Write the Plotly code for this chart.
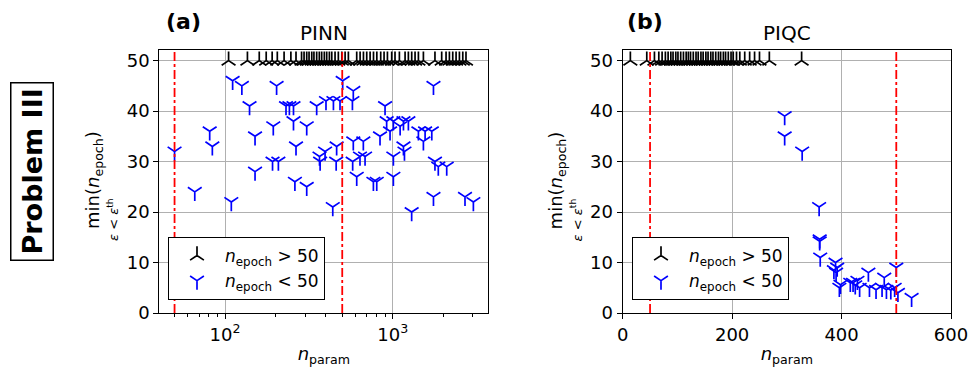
import plotly.graph_objects as go

# ---------------- data ----------------
# Panel (a) PINN: runs that did not converge within 50 epochs (plotted at the cap 50)
pinn_over_x = [105, 136, 160, 176, 191, 205, 225, 247, 265, 286, 296, 307, 317, 329, 339,
               352, 365, 377, 391, 404, 419, 433, 453, 474, 497, 520, 544, 610, 639, 669,
               700, 733, 768, 804, 848, 888, 930, 986, 1032, 1096, 1185, 1240, 1298, 1359,
               1423, 1524, 1786, 1959, 2080, 2178, 2280, 2387, 2499, 2617, 2735]
pinn_over_y = [50, 50, 50, 50, 50, 50, 50, 50, 50, 50, 50, 50, 50, 50, 50,
               50, 50, 50, 50, 50, 50, 50, 50, 50, 50, 50, 50, 50, 50, 50,
               50, 50, 50, 50, 50, 50, 50, 50, 50, 50, 50, 50, 50, 50,
               50, 50, 50, 50, 50, 50, 50, 50, 50, 50, 50]
# Panel (a) PINN: converged runs
pinn_under_x = [50, 66, 81, 84, 109, 111, 126, 140, 151, 151, 194, 203, 192, 208,
                231, 242, 256, 256, 307, 265, 261, 307, 352, 400, 443, 485, 503,
                582, 575, 366, 395, 369, 463, 460, 439, 582, 668, 638, 684, 577,
                610, 767, 803, 1009, 840, 900, 920, 1009, 964, 1107, 1159, 1240,
                1159, 1175, 1009, 1423, 1560, 1710, 1524, 1750, 1786, 1870, 2099,
                1750, 1297, 2698, 3027]
pinn_under_y = [32, 24, 36, 33, 22, 46, 45, 41, 35, 28, 37, 45, 30, 30,
                41, 41, 41, 38, 37, 33, 26, 25, 41, 42, 42, 42, 46,
                44, 42, 31, 32, 30, 33, 30, 21, 34, 34, 31, 31, 30,
                27, 26, 26, 27, 35, 41, 38, 38, 36, 37, 38, 38,
                33, 32, 31, 36, 36, 36, 34, 45, 30, 29, 29,
                23, 20, 23, 22]

# Panel (b) PIQC
piqc_over_x = [14, 44, 58, 66, 72, 78, 83, 88, 92, 97, 101, 106, 111, 116, 120, 124,
               129, 134, 138, 143, 147, 152, 156, 161, 165, 170, 175, 179, 184, 188,
               193, 198, 202, 208, 214, 223, 232, 241, 250, 268, 327]
piqc_over_y = [50, 50, 50, 50, 50, 50, 50, 50, 50, 50, 50, 50, 50, 50, 50, 50,
               50, 50, 50, 50, 50, 50, 50, 50, 50, 50, 50, 50, 50, 50,
               50, 50, 50, 50, 50, 50, 50, 50, 50, 50, 50]
piqc_under_x = [296, 296, 328, 359, 360, 360, 361, 389, 392, 386, 390, 396, 398, 416,
                421, 425, 429, 433, 449, 451, 463, 474, 478, 482, 490, 497, 500, 503, 528]
piqc_under_y = [39, 35, 32, 21, 14.6, 14.2, 11, 10, 9, 8.5, 8, 5, 5.6, 6,
                6, 5.5, 6.4, 5, 8, 5, 4.6, 5, 7, 4.6, 4.5, 5, 9, 4, 3]

thresholds = [50, 500]
y_max = 52.1

legend_labels = ["<i>n</i><sub>epoch</sub> &gt; 50", "<i>n</i><sub>epoch</sub> &lt; 50"]

FONT = "DejaVu Sans"
MS = 11.5
LW = 1.7

fig = go.Figure()


def add_panel(xref, yref, legend, ox, oy, ux, uy):
    fig.add_trace(go.Scatter(
        x=ox, y=oy, mode="markers", xaxis=xref, yaxis=yref, legend=legend,
        name=legend_labels[0], cliponaxis=False,
        marker=dict(symbol="y-up", size=MS, color="black",
                    line=dict(color="black", width=LW))))
    fig.add_trace(go.Scatter(
        x=ux, y=uy, mode="markers", xaxis=xref, yaxis=yref, legend=legend,
        name=legend_labels[1], cliponaxis=False,
        marker=dict(symbol="y-down", size=MS, color="blue",
                    line=dict(color="blue", width=LW))))


add_panel("x", "y", "legend", pinn_over_x, pinn_over_y, pinn_under_x, pinn_under_y)
add_panel("x2", "y2", "legend2", piqc_over_x, piqc_over_y, piqc_under_x, piqc_under_y)

shapes = []
for xr, yr in (("x", "y"), ("x2", "y2")):
    for t in thresholds:
        shapes.append(dict(type="line", xref=xr, yref=yr + " domain", x0=t, x1=t,
                           y0=0, y1=1, layer="above",
                           line=dict(color="red", width=1.8, dash="dashdot")))

W, H = 971, 369
ydom = [1 - 313 / H, 1 - 50 / H]
common_y = dict(range=[0, y_max], tick0=0, dtick=10, showgrid=True, gridcolor="#b0b0b0",
                gridwidth=1, zeroline=False, showline=True, mirror=True, linecolor="black",
                linewidth=1.2, ticks="outside", ticklen=5, tickcolor="black", automargin=False,
                tickfont=dict(size=18, color="black", family=FONT), domain=ydom)
xtitle = dict(text="<i>n</i><sub>param</sub>", font=dict(size=18, color="black", family=FONT),
              standoff=3)

fig.update_layout(
    width=W, height=H, margin=dict(l=0, r=0, t=0, b=0, autoexpand=False),
    paper_bgcolor="white", plot_bgcolor="white",
    font=dict(family=FONT, color="black"),
    shapes=shapes,
    xaxis=dict(type="log", range=[1.608, 3.570], domain=[159.3 / W, 488.3 / W],
               tickvals=[100, 1000], ticktext=["10<sup>2</sup>", "10<sup>3</sup>"],
               showgrid=True, gridcolor="#b0b0b0", gridwidth=1, zeroline=False,
               showline=True, mirror=True, linecolor="black", linewidth=1.2,
               ticks="outside", ticklen=5, tickcolor="black", automargin=False,
               tickfont=dict(size=18, color="black", family=FONT),
               minor=dict(tickvals=[50, 60, 70, 80, 90, 200, 300, 400, 500, 600, 700, 800,
                                    900, 2000, 3000],
                          ticks="outside", ticklen=3, tickcolor="black", showgrid=False),
               title=xtitle, anchor="y"),
    yaxis=dict(anchor="x", **common_y),
    xaxis2=dict(range=[0, 600], domain=[622.7 / W, 951 / W], tick0=0, dtick=200,
                showgrid=True, gridcolor="#b0b0b0", gridwidth=1, zeroline=False,
                showline=True, mirror=True, linecolor="black", linewidth=1.2,
                ticks="outside", ticklen=5, tickcolor="black", automargin=False,
                tickfont=dict(size=18, color="black", family=FONT),
                title=xtitle, anchor="y2"),
    yaxis2=dict(anchor="x2", **common_y),
    legend=dict(x=168 / W, y=1 - 237 / H, xanchor="left", yanchor="top",
                bgcolor="white", bordercolor="black", borderwidth=1,
                font=dict(size=17, color="black", family=FONT), itemwidth=46,
                tracegroupgap=0),
    legend2=dict(x=632 / W, y=1 - 237 / H, xanchor="left", yanchor="top",
                 bgcolor="white", bordercolor="black", borderwidth=1,
                 font=dict(size=17, color="black", family=FONT), itemwidth=46,
                 tracegroupgap=0),
    showlegend=True,
)

ann = []


def add_ann(text, px, py, size, angle=0, **kw):
    ann.append(dict(text=text, x=px / W, y=1 - py / H, xref="paper", yref="paper",
                    xanchor="center", yanchor="middle", showarrow=False, textangle=angle,
                    font=dict(size=size, family=FONT, color="black"), **kw))


# panel titles and labels
add_ann("PINN", (159.3 + 488.3) / 2, 33, 20)
add_ann("PIQC", (622.7 + 951) / 2, 33, 20)
add_ann("<b>(a)</b>", 183, 22, 22)
add_ann("<b>(b)</b>", 645, 22, 22)
# y labels
for off in (0, 463.4):
    add_ann("min(<i>n</i><sub>epoch</sub>)", 94 + off, 180, 18, -90)
    add_ann("<i>ε</i> &lt; <i>ε</i><sup>th</sup>", 113 + off, 220, 13, -90)
# Problem III box
add_ann("<b>Problem III</b>", 32, 172, 27, -90, bordercolor="black", borderwidth=1.5,
        borderpad=5, bgcolor="white")
fig.update_layout(annotations=ann)

fig.write_html("out.html")
